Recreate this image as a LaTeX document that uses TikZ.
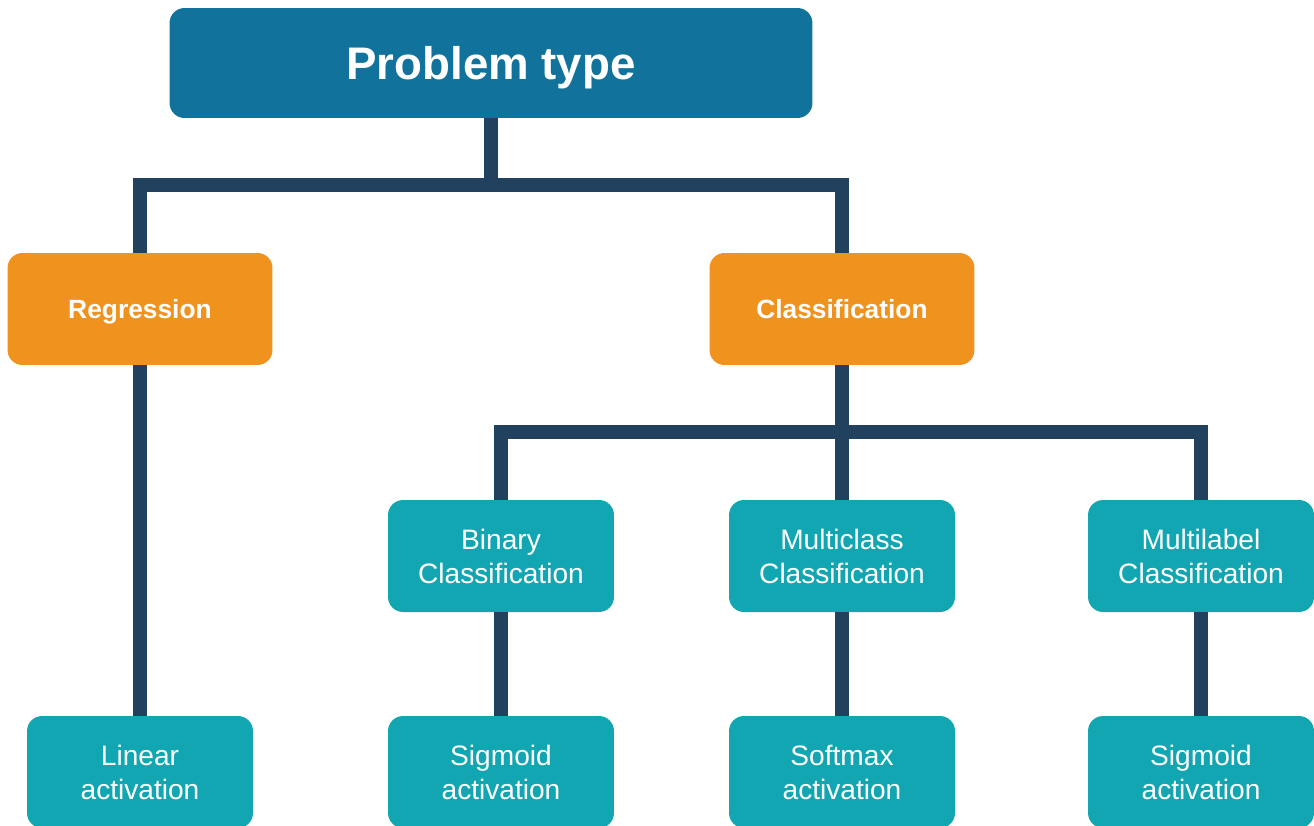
\documentclass[tikz,border=0pt]{standalone}
\usepackage{fontspec}
\setmainfont{Liberation Sans}
\definecolor{topblue}{RGB}{17,115,156}
\definecolor{orangebox}{RGB}{240,146,30}
\definecolor{tealbox}{RGB}{18,166,178}
\definecolor{linknavy}{RGB}{34,65,94}
\begin{document}
\begin{tikzpicture}[
        x=0.02cm, y=-0.02cm,
        box/.style={rectangle, rounded corners=0.3cm, text=white, align=center, inner sep=0pt},
        topbox/.style={box, fill=topblue, minimum width=12.86cm, minimum height=2.2cm, text height=18.6pt, text depth=0pt, font=\fontsize{26}{30}\selectfont\bfseries},
        midbox/.style={box, fill=orangebox, minimum width=5.3cm, minimum height=2.24cm, text height=10.7pt, text depth=0pt, font=\fontsize{15}{18}\selectfont\bfseries},
        leafbox/.style={box, fill=tealbox, minimum width=4.52cm, minimum height=2.24cm, font=\fontsize{16}{19.3}\selectfont},
        link/.style={draw=linknavy, line width=0.28cm}
    ]
        \useasboundingbox (0,0) rectangle (1314,825);

        % Các nút
        \node [topbox] (root) at (491,63) {Problem type};
        \node [midbox] (reg) at (140,309) {Regression};
        \node [midbox] (cls) at (842,309) {Classification};
        \node [leafbox] (bin) at (501,556) {Binary\\Classification};
        \node [leafbox] (mcl) at (842,556) {Multiclass\\Classification};
        \node [leafbox] (mlb) at (1201,556) {Multilabel\\Classification};
        \node [leafbox] (lin) at (140,772) {Linear\\activation};
        \node [leafbox] (sig1) at (501,772) {Sigmoid\\activation};
        \node [leafbox] (soft) at (842,772) {Softmax\\activation};
        \node [leafbox] (sig2) at (1201,772) {Sigmoid\\activation};

        % Các điểm rẽ nhánh
        \coordinate (fork1) at (491,185);
        \coordinate (fork2) at (842,432);

        % Các liên kết
        \draw[link] (root.south) -- (fork1);
        \draw[link] (reg.north) |- (fork1) -| (cls.north);
        \draw[link] (cls.south) -- (mcl.north);
        \draw[link] (bin.north) |- (fork2) -| (mlb.north);
        \draw[link] (reg.south) -- (lin.north);
        \draw[link] (bin.south) -- (sig1.north);
        \draw[link] (mcl.south) -- (soft.north);
        \draw[link] (mlb.south) -- (sig2.north);
    \end{tikzpicture}
\end{document}
